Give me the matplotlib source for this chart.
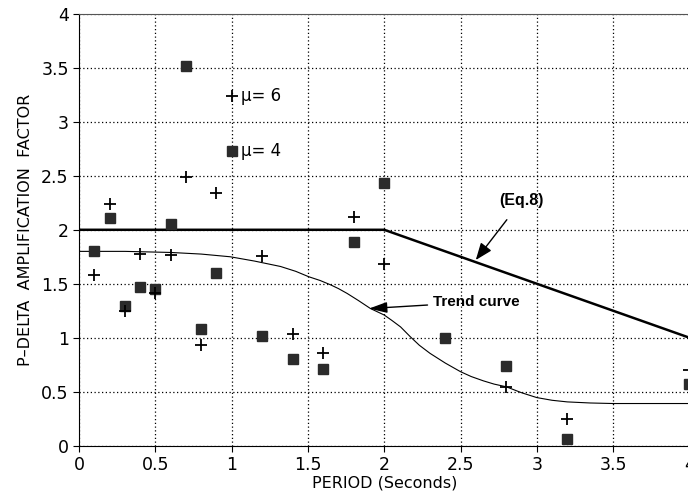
import numpy as np
import matplotlib
matplotlib.use("Agg")
import matplotlib.pyplot as plt

plt.rcParams['font.family'] = ['DejaVu Sans']

# mu = 4 (squares)
period_mu4 = [0.1, 0.2, 0.3, 0.4, 0.5, 0.6, 0.7, 0.8, 0.9, 1.2, 1.4, 1.6, 1.8, 2.0, 2.4, 2.8, 3.2, 4.0]
amp_mu4 = [1.80, 2.11, 1.29, 1.47, 1.45, 2.05, 3.52, 1.08, 1.60, 1.02, 0.80, 0.71, 1.89, 2.43, 1.00, 0.74, 0.06, 0.57]

# mu = 6 (crosses)
period_mu6 = [0.1, 0.2, 0.3, 0.4, 0.5, 0.6, 0.7, 0.8, 0.9, 1.2, 1.4, 1.6, 1.8, 2.0, 2.8, 3.2, 4.0]
amp_mu6 = [1.58, 2.24, 1.25, 1.78, 1.41, 1.77, 2.49, 0.93, 2.34, 1.76, 1.03, 0.86, 2.12, 1.68, 0.54, 0.25, 0.70]

# Eq.8 design line
eq8_period = [0, 2, 4]
eq8_amp = [2, 2, 1]

# trend curve
trend_period = [0, 0.3, 0.6, 0.8, 0.99, 1.15, 1.32, 1.42, 1.505, 1.58, 1.648, 1.70, 1.757, 1.83, 1.91, 2.0, 2.05, 2.107, 2.17, 2.23,
                2.30, 2.40, 2.50, 2.57, 2.65, 2.72, 2.8, 2.9, 3.0, 3.1, 3.2, 3.35, 3.5, 3.7, 4.0]
trend_amp = [1.80, 1.80, 1.79, 1.775, 1.75, 1.71, 1.66, 1.615, 1.565, 1.53, 1.49, 1.455, 1.41, 1.345, 1.27, 1.21, 1.16, 1.10, 1.01, 0.93,
             0.855, 0.765, 0.685, 0.64, 0.60, 0.57, 0.545, 0.49, 0.445, 0.42, 0.405, 0.395, 0.39, 0.39, 0.39]

fig = plt.figure(figsize=(6.88, 4.99), dpi=100)
ax = fig.add_axes([0.115, 0.107, 0.887, 0.865])

ax.plot(eq8_period, eq8_amp, color='black', lw=1.8, zorder=3)
ax.plot(trend_period, trend_amp, color='black', lw=0.8, zorder=3, solid_joinstyle='round')

ax.plot(period_mu4, amp_mu4, ls='none', marker='s', ms=7, color='#2b2b2b', zorder=4)
ax.plot(period_mu6, amp_mu6, ls='none', marker='+', ms=9, mew=1.3, color='black', zorder=4)

# legend markers drawn inside the plot
ax.plot([1.0], [3.24], ls='none', marker='+', ms=9, mew=1.3, color='black')
ax.text(1.06, 3.24, 'μ= 6', fontsize=12, va='center')
ax.plot([1.0], [2.73], ls='none', marker='s', ms=7, color='#2b2b2b')
ax.text(1.06, 2.73, 'μ= 4', fontsize=12, va='center')

ax.annotate('(Eq.8)', xy=(2.6, 1.72), xytext=(2.9, 2.27), fontsize=11.5, fontweight='bold',
            family='Liberation Sans', ha='center', va='center',
            arrowprops=dict(arrowstyle='-|>,head_length=0.9,head_width=0.35', color='black', lw=1,
                            shrinkA=8, shrinkB=0))
ax.annotate('Trend curve', xy=(1.9, 1.27), xytext=(2.32, 1.33), fontsize=11, fontweight='bold',
            family='Liberation Sans', ha='left', va='center',
            arrowprops=dict(arrowstyle='-|>,head_length=1.0,head_width=0.3', color='black', lw=1,
                            shrinkA=2, shrinkB=0))

ax.set_xlim(0, 4)
ax.set_ylim(0, 4)
ax.set_xticks(np.arange(0, 4.01, 0.5))
ax.set_yticks(np.arange(0, 4.01, 0.5))
ax.set_xticklabels(['0', '0.5', '1', '1.5', '2', '2.5', '3', '3.5', '4'])
ax.set_yticklabels(['0', '0.5', '1', '1.5', '2', '2.5', '3', '3.5', '4'])
ax.tick_params(labelsize=12.5, length=4, direction='out')
ax.grid(True, color='black', ls=(0, (1, 2)), lw=0.9)
ax.spines['right'].set_visible(False)
ax.spines['top'].set_color('#555555')
ax.set_xlabel('PERIOD (Seconds)', fontsize=11.5, labelpad=1)
ax.set_ylabel('P\u2013DELTA  AMPLIFICATION  FACTOR', fontsize=11.5, labelpad=6)

fig.savefig('out.png', dpi=100)
